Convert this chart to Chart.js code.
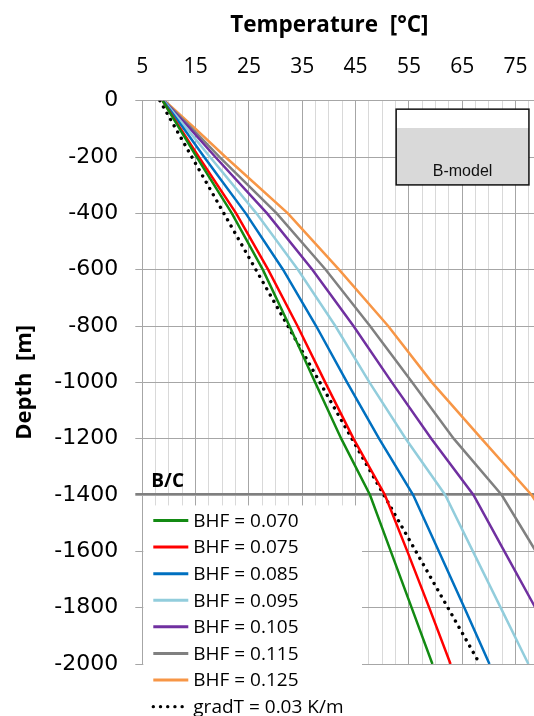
<!DOCTYPE html>
<html>
<head>
<meta charset="utf-8">
<script src="https://cdn.jsdelivr.net/npm/chart.js@4/dist/chart.umd.min.js"></script>
<style>
  html, body { margin: 0; padding: 0; background: #fff; overflow: hidden; }
</style>
</head>
<body>
<canvas id="profile" width="534" height="716"></canvas>
<script>
// temperature profiles for the B-model, one per basal heat flow
const depths = [0, -100, -200, -400, -600, -800, -1000, -1200, -1400, -1600, -1800, -2000];
const bhf070 = [8.8, 12.0, 15.2, 21.8, 27.6, 32.6, 37.4, 42.3, 47.7, 51.6, 55.5, 59.4];
const bhf075 = [8.8, 12.2, 15.6, 22.6, 28.6, 34.1, 39.3, 44.6, 50.5, 54.7, 58.8, 62.8];
const bhf085 = [8.9, 12.8, 16.6, 24.4, 31.4, 37.6, 43.4, 49.4, 55.8, 60.6, 65.4, 70.1];
const bhf095 = [9.0, 13.4, 17.7, 26.4, 34.2, 41.2, 47.6, 54.4, 61.8, 67.0, 72.2, 77.4];
const bhf105 = [9.0, 14.0, 18.7, 28.4, 36.9, 44.6, 51.8, 59.2, 67.1, 72.9, 78.7, 84.5];
const bhf115 = [9.1, 14.4, 19.5, 30.2, 39.4, 47.7, 55.6, 63.4, 72.4, 78.8, 85.2, 91.6];
const bhf125 = [9.2, 15.0, 20.6, 32.3, 41.9, 51.1, 59.3, 68.6, 78.0, 85.0, 92.0, 99.0];

// reference gradient 0.03 K/m
const gradDepths = [0, -2000];
const gradTemps = [8.3, 68.3];

const seriesLabels = ['BHF = 0.070', 'BHF = 0.075', 'BHF = 0.085', 'BHF = 0.095',
                      'BHF = 0.105', 'BHF = 0.115', 'BHF = 0.125'];
const seriesColors = ['#138a13', '#ff0000', '#0070c0', '#92cddc', '#7030a0', '#808080', '#f79646'];
const gradLabel = 'gradT = 0.03 K/m';

const tempTicks = [5, 15, 25, 35, 45, 55, 65, 75];
const depthTicks = [0, -200, -400, -600, -800, -1000, -1200, -1400, -1600, -1800, -2000];
const bcDepth = -1400;

const OPEN = '"Open Sans", sans-serif';

function toPoints(temps, ds) {
  return temps.map((t, i) => ({ x: t, y: ds[i] }));
}

const profiles = [bhf070, bhf075, bhf085, bhf095, bhf105, bhf115, bhf125];
const datasets = profiles.map((temps, i) => ({
  label: seriesLabels[i],
  data: toPoints(temps, depths),
  borderColor: seriesColors[i],
  borderWidth: 2.5,
  pointRadius: 0,
  showLine: true,
  tension: 0
}));
datasets.push({
  label: gradLabel,
  data: toPoints(gradTemps, gradDepths),
  borderColor: '#000',
  borderWidth: 3.4,
  borderDash: [0.01, 7.2],
  borderCapStyle: 'round',
  pointRadius: 0,
  showLine: true
});

// legend panel, B/C boundary and the model inset
const decorations = {
  id: 'decorations',
  beforeDatasetsDraw(chart) {
    const { ctx, chartArea: a, scales: { x, y } } = chart;
    ctx.save();

    // white panel for the legend in the lower left
    const panelRight = x.getPixelForValue(46.2);
    const panelTop = y.getPixelForValue(-1437);
    ctx.fillStyle = '#fff';
    ctx.fillRect(a.left + 1, panelTop, panelRight - a.left - 1, chart.height - panelTop);

    // B/C boundary
    const by = Math.round(y.getPixelForValue(bcDepth)) - 1;
    ctx.strokeStyle = '#7f7f7f';
    ctx.lineWidth = 2;
    ctx.beginPath();
    ctx.moveTo(a.left - 7, by);
    ctx.lineTo(a.right, by);
    ctx.stroke();
    ctx.fillStyle = '#000';
    ctx.font = 'bold 19px ' + OPEN;
    ctx.textBaseline = 'alphabetic';
    ctx.textAlign = 'left';
    ctx.fillText('B/C', a.left + 9, by - 7);

    // model inset
    const bx0 = x.getPixelForValue(52.6), bx1 = x.getPixelForValue(77.5);
    const by0 = y.getPixelForValue(-30), by1 = y.getPixelForValue(-299);
    const band = y.getPixelForValue(-97);
    ctx.fillStyle = '#fff';
    ctx.fillRect(bx0, by0, bx1 - bx0, band - by0);
    ctx.fillStyle = '#d9d9d9';
    ctx.fillRect(bx0, band, bx1 - bx0, by1 - band);
    ctx.strokeStyle = '#111';
    ctx.lineWidth = 1.5;
    ctx.strokeRect(bx0, by0, bx1 - bx0, by1 - by0);
    ctx.fillStyle = '#111';
    ctx.font = '16px "Liberation Sans", Arial, sans-serif';
    ctx.textAlign = 'center';
    ctx.textBaseline = 'middle';
    ctx.fillText('B-model', (bx0 + bx1) / 2, y.getPixelForValue(-250));
    ctx.restore();
  },
  afterDraw(chart) {
    const { ctx, chartArea: a, scales: { y } } = chart;
    const top = y.getPixelForValue(-1437);
    ctx.save();
    ctx.font = '19px ' + OPEN;
    ctx.textBaseline = 'middle';
    ctx.textAlign = 'left';
    chart.data.datasets.forEach((ds, i) => {
      const ry = top + 15 + i * 26.6;
      ctx.strokeStyle = ds.borderColor;
      ctx.lineWidth = ds.borderDash ? 3.4 : 3;
      ctx.lineCap = ds.borderDash ? 'round' : 'butt';
      ctx.setLineDash(ds.borderDash || []);
      ctx.beginPath();
      ctx.moveTo(a.left + 11, ry);
      ctx.lineTo(a.left + 46, ry);
      ctx.stroke();
      ctx.setLineDash([]);
      ctx.fillStyle = '#000';
      ctx.fillText(ds.label, a.left + 51, ry + 1);
    });
    ctx.restore();
  }
};

new Chart(document.getElementById('profile').getContext('2d'), {
  type: 'scatter',
  data: { datasets },
  plugins: [decorations],
  options: {
    responsive: false,
    animation: false,
    devicePixelRatio: 1,
    layout: { padding: { left: 12, top: 8, right: 0, bottom: 52 } },
    plugins: { legend: { display: false }, tooltip: { enabled: false } },
    scales: {
      x: {
        type: 'linear',
        position: 'top',
        min: 5,
        max: 78.45,
        afterBuildTicks(scale) {
          const ticks = [];
          for (let t = 5; t < 78; t += 2.5) ticks.push({ value: t });
          scale.ticks = ticks;
        },
        afterFit(scale) {
          scale.height = 92.7;
          scale.paddingLeft = 0;
          scale.paddingRight = 0;
        },
        ticks: {
          autoSkip: false,
          maxRotation: 0,
          padding: 23,
          color: '#000',
          font: { family: OPEN, size: 21, lineHeight: 1.0 },
          callback: v => (tempTicks.includes(v) ? String(v) : '')
        },
        grid: {
          drawTicks: false,
          color: c => (tempTicks.includes(c.tick.value) ? '#a6a6a6' : '#d9d9d9')
        },
        border: { color: '#a6a6a6' },
        title: {
          display: true,
          text: 'Temperature  [°C]   ',
          color: '#000',
          font: { family: OPEN, size: 22.5, weight: 'bold' },
          padding: { top: 4, bottom: 0 }
        }
      },
      y: {
        type: 'linear',
        min: -2000,
        max: 0,
        afterBuildTicks(scale) {
          scale.ticks = depthTicks.map(v => ({ value: v }));
        },
        afterFit(scale) { scale.width = 130.3; },
        ticks: {
          padding: 17,
          color: '#000',
          font: { family: '"DejaVu Sans", sans-serif', size: 22 },
          callback: v => String(v)
        },
        grid: { color: '#a6a6a6', tickLength: 7 },
        border: { color: '#a6a6a6' },
        title: {
          display: true,
          text: 'Depth  [m]',
          color: '#000',
          font: { family: OPEN, size: 22, weight: 'bold' },
          padding: { top: 0, bottom: 0 }
        }
      }
    }
  }
});
</script>
</body>
</html>
